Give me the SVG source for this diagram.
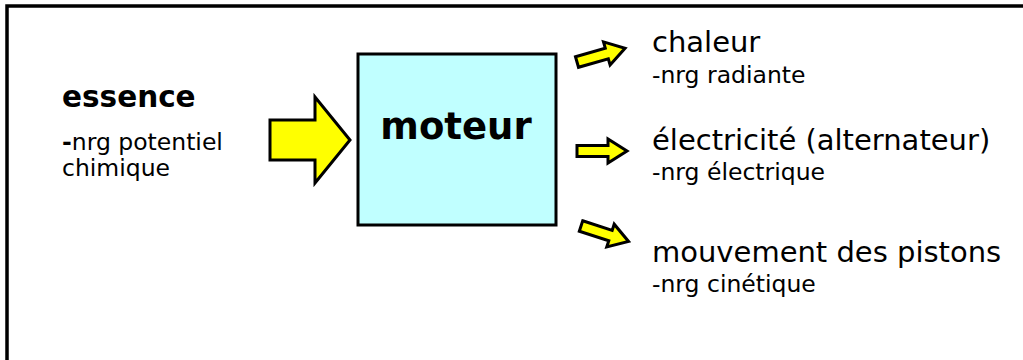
<svg xmlns="http://www.w3.org/2000/svg" width="1023" height="360" viewBox="0 0 1023 360">
<style>
  .arrow { fill: #FFFF00; stroke: #000; stroke-width: 3; stroke-linejoin: miter; }
  .t { font-family: "DejaVu Sans", Verdana, sans-serif; fill: #000; }
  .b { font-weight: bold; }
</style>
<defs>
  <path id="small-arrow" d="M0,-5.5 H31 V-12 L50,0 L31,12 V5.5 H0 Z"/>
</defs>
<rect width="1023" height="360" fill="#fff"/>
<path d="M7,360 V6 H1023" fill="none" stroke="#000" stroke-width="3.5"/>

<g id="essence">
  <text class="t b" x="62" y="107" font-size="29.5">essence</text>
  <text class="t" x="62" y="150" font-size="23.5"><tspan font-weight="bold">-</tspan>nrg potentiel</text>
  <text class="t" x="62" y="176" font-size="23.5">chimique</text>
</g>

<g id="moteur">
  <rect x="358" y="54" width="198" height="171" fill="#C0FFFF" stroke="#000" stroke-width="3"/>
  <text class="t b" x="456" y="139" font-size="37" text-anchor="middle">moteur</text>
</g>

<g id="chaleur">
  <text class="t" x="652" y="52" font-size="29">chaleur</text>
  <text class="t" x="652" y="83" font-size="23.5">-nrg radiante</text>
</g>

<g id="electricite">
  <text class="t" x="652" y="150" font-size="29">électricité (alternateur)</text>
  <text class="t" x="652" y="180" font-size="23.5">-nrg électrique</text>
</g>

<g id="mouvement">
  <text class="t" x="652" y="262" font-size="29">mouvement des pistons</text>
  <text class="t" x="652" y="292" font-size="23.5">-nrg cinétique</text>
</g>

<g id="connectors">
  <path class="arrow" d="M270,120 H315 V97 L350,140 L315,183 V160 H270 Z"/>
  <use href="#small-arrow" class="arrow" transform="translate(577,62) rotate(-16)"/>
  <use href="#small-arrow" class="arrow" transform="translate(577,151)"/>
  <use href="#small-arrow" class="arrow" transform="translate(581,226) rotate(18)"/>
</g>
</svg>
